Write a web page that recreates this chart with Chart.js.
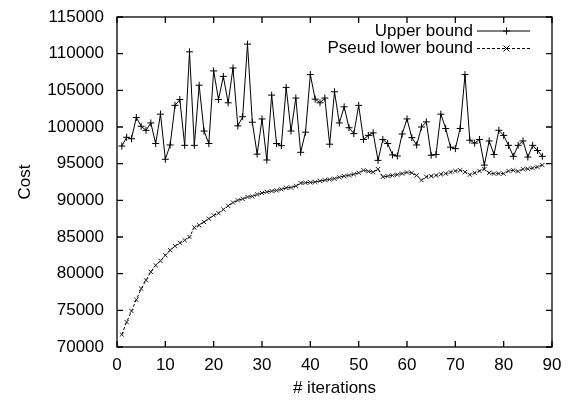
<!DOCTYPE html>
<html>
<head>
<meta charset="utf-8">
<script src="https://cdn.jsdelivr.net/npm/chart.js@4/dist/chart.umd.min.js"></script>
<style>
  html, body { margin: 0; padding: 0; background: #fff; }
  #wrap { width: 568px; height: 401px; }
</style>
</head>
<body>
<div id="wrap"><canvas id="cost_chart" width="568" height="401"></canvas></div>
<script>
const iterations = [1, 2, 3, 4, 5, 6, 7, 8, 9, 10, 11, 12, 13, 14, 15, 16, 17, 18, 19, 20,
    21, 22, 23, 24, 25, 26, 27, 28, 29, 30, 31, 32, 33, 34, 35, 36, 37, 38, 39, 40,
    41, 42, 43, 44, 45, 46, 47, 48, 49, 50, 51, 52, 53, 54, 55, 56, 57, 58, 59, 60,
    61, 62, 63, 64, 65, 66, 67, 68, 69, 70, 71, 72, 73, 74, 75, 76, 77, 78, 79, 80,
    81, 82, 83, 84, 85, 86, 87, 88];

const upper_bound = [97400, 98600, 98400, 101300, 100100, 99550, 100550, 97750, 101750, 95600,
    97550, 102950, 103750, 97500, 110250, 97500, 105700, 99450, 97750, 107650,
    103750, 106900, 103300, 108050, 100150, 101400, 111300, 100650, 96300, 101100,
    95500, 104350, 97750, 97450, 105400, 99450, 103950, 96550, 99300, 107150,
    103800, 103300, 103950, 97650, 104800, 100550, 102750, 99900, 99100, 102950,
    98300, 98850, 99200, 95450, 98300, 97750, 96200, 96050, 99050, 101100,
    98550, 97550, 100000, 100700, 96150, 96250, 101750, 99800, 97250, 97050,
    99800, 107150, 98200, 97800, 98300, 94800, 98100, 96250, 99550, 98850,
    97500, 96000, 97500, 98100, 95900, 97500, 96800, 96000];

const lower_bound = [71700, 73400, 74900, 76450, 77950, 79100, 80250, 81150, 81750, 82500,
    83200, 83750, 84200, 84550, 85000, 86300, 86600, 87050, 87500, 87950,
    88250, 88750, 89250, 89700, 90000, 90200, 90450, 90550, 90800, 91000,
    91150, 91250, 91350, 91500, 91700, 91750, 91950, 92350, 92400, 92450,
    92500, 92650, 92750, 92850, 92950, 93150, 93300, 93400, 93550, 93750,
    94100, 93950, 93850, 94250, 93200, 93300, 93400, 93500, 93650, 93800,
    93750, 93400, 92750, 93200, 93300, 93400, 93550, 93650, 93850, 94000,
    94100, 93850, 93500, 93750, 94000, 94250, 93750, 93650, 93650, 93650,
    94000, 94100, 93950, 94250, 94300, 94400, 94550, 94800];

const x_ticks = [0, 10, 20, 30, 40, 50, 60, 70, 80, 90];
const y_ticks = [70000, 75000, 80000, 85000, 90000, 95000, 100000, 105000, 110000, 115000];

const FONT = '"Liberation Sans", Arial, Helvetica, sans-serif';

function toPoints(values) {
    return values.map(function(v, i){ return {x: iterations[i], y: v}; });
}

// gnuplot style frame, inward ticks on all four sides, legend top right
const framePlugin = {
    id: 'frame',
    afterDatasetsDraw(chart) {
        const ctx = chart.ctx;
        const a = chart.chartArea;
        const xs = chart.scales.x;
        const ys = chart.scales.y;
        const tl = 6;
        ctx.save();
        ctx.strokeStyle = '#000';
        ctx.lineWidth = 1.3;
        ctx.setLineDash([]);
        ctx.strokeRect(a.left, a.top, a.right - a.left, a.bottom - a.top);
        ctx.beginPath();
        x_ticks.forEach(function(t){
            const px = xs.getPixelForValue(t);
            ctx.moveTo(px, a.bottom); ctx.lineTo(px, a.bottom - tl);
            ctx.moveTo(px, a.top); ctx.lineTo(px, a.top + tl);
        });
        y_ticks.forEach(function(t){
            const py = ys.getPixelForValue(t);
            ctx.moveTo(a.left, py); ctx.lineTo(a.left + tl, py);
            ctx.moveTo(a.right, py); ctx.lineTo(a.right - tl, py);
        });
        ctx.stroke();

        // legend
        const textRight = a.right - 79;
        const lineL = a.right - 75;
        const lineR = a.right - 22;
        const rows = [a.top + 14, a.top + 31.5];
        ctx.font = '17px ' + FONT;
        ctx.textAlign = 'right';
        ctx.textBaseline = 'middle';
        ctx.fillStyle = '#000';
        chart.data.datasets.forEach(function(ds, i){
            const y = rows[i];
            ctx.fillText(ds.label, textRight, y);
            ctx.lineWidth = 1;
            ctx.setLineDash(ds.borderDash || []);
            ctx.beginPath();
            ctx.moveTo(lineL, y); ctx.lineTo(lineR, y);
            ctx.stroke();
            ctx.setLineDash([]);
            const cx = (lineL + lineR) / 2 + 3;
            const r = ds.pointRadius;
            ctx.beginPath();
            if (ds.pointStyle === 'cross') {
                ctx.moveTo(cx - r, y); ctx.lineTo(cx + r, y);
                ctx.moveTo(cx, y - r); ctx.lineTo(cx, y + r);
            } else {
                ctx.moveTo(cx - r, y - r); ctx.lineTo(cx + r, y + r);
                ctx.moveTo(cx - r, y + r); ctx.lineTo(cx + r, y - r);
            }
            ctx.stroke();
        });
        ctx.restore();
    }
};

const cost_chart = new Chart(document.getElementById('cost_chart').getContext('2d'), {
    type: 'line',
    data: {
        datasets: [{
            label: 'Upper bound',
            data: toPoints(upper_bound),
            borderColor: '#000',
            backgroundColor: '#000',
            borderWidth: 1,
            pointStyle: 'cross',
            pointRadius: 3.5,
            pointBorderWidth: 1,
            pointBorderColor: '#000',
            tension: 0
        },{
            label: 'Pseud lower bound',
            data: toPoints(lower_bound),
            borderColor: '#000',
            backgroundColor: '#000',
            borderWidth: 1,
            borderDash: [3, 2],
            pointStyle: 'crossRot',
            pointRadius: 3,
            pointBorderWidth: 1,
            pointBorderColor: '#222',
            tension: 0
        }]
    },
    options: {
        responsive: false,
        animation: false,
        events: [],
        layout: { padding: { top: 17, right: 16, left: 0, bottom: 0 } },
        plugins: {
            legend: { display: false },
            tooltip: { enabled: false }
        },
        scales: {
            x: {
                type: 'linear',
                min: 0,
                max: 90,
                afterFit: function(scale){
                    scale.height = 54;
                    scale.paddingLeft = 0;
                    scale.paddingRight = 0;
                },
                afterBuildTicks: function(scale){ scale.ticks = x_ticks.map(function(v){ return {value: v}; }); },
                grid: { display: false, drawTicks: false },
                border: { display: false },
                ticks: { color: '#000', padding: 8, font: { family: FONT, size: 17 }, maxRotation: 0 },
                title: { display: true, text: '# iterations', color: '#000', padding: { top: 0, bottom: 2 }, font: { family: FONT, size: 17 } }
            },
            y: {
                type: 'linear',
                min: 70000,
                max: 115000,
                afterFit: function(scale){
                    scale.width = 117;
                    scale.paddingTop = 0;
                    scale.paddingBottom = 0;
                },
                afterBuildTicks: function(scale){ scale.ticks = y_ticks.map(function(v){ return {value: v}; }); },
                grid: { display: false, drawTicks: false },
                border: { display: false },
                ticks: { color: '#000', padding: 13, font: { family: FONT, size: 17 },
                    callback: function(v){ return String(v); } },
                title: { display: true, text: 'Cost', color: '#000', padding: { top: 15, bottom: 0 }, font: { family: FONT, size: 17 } }
            }
        }
    },
    plugins: [framePlugin]
});
</script>
</body>
</html>
